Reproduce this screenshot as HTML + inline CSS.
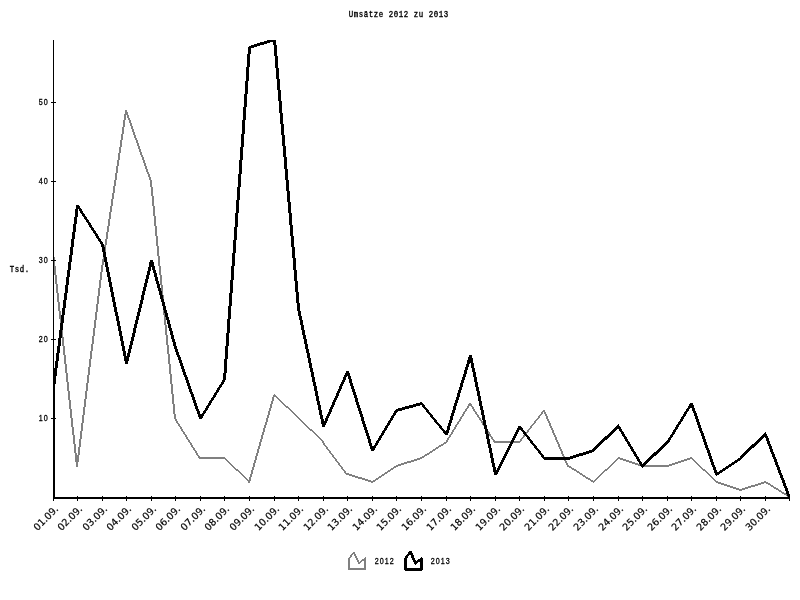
<!DOCTYPE html>
<html><head><meta charset="utf-8"><title>Umsätze 2012 zu 2013</title>
<style>
html,body{margin:0;padding:0;background:#fff;}
svg{display:block;}
.bm{font-family:"Liberation Mono","DejaVu Sans Mono",monospace;font-size:8.4px;font-weight:normal;fill:#000;stroke:#000;stroke-width:0.35px;letter-spacing:0.64px;}
.xl{font-family:"DejaVu Sans","Liberation Sans",sans-serif;font-size:9.6px;fill:#000;stroke:#000;stroke-width:0.2px;}
.nm{font-family:"Liberation Sans","DejaVu Sans",sans-serif;font-size:8.4px;fill:#000;stroke:#000;stroke-width:0.3px;letter-spacing:1.21px;}
</style></head><body>
<svg width="800" height="600" viewBox="0 0 800 600">
<rect width="800" height="600" fill="#fff"/>
<defs><clipPath id="cp"><rect x="53" y="40" width="737" height="459"/></clipPath></defs>
<text class="bm" transform="translate(348.8,17) scale(0.88,1)">Umsätze 2012 zu 2013</text>
<text class="bm" transform="translate(9.8,272) scale(0.88,1)">Tsd.</text>
<path d="M51.94,252.00 L53.94,252.00 L78.06,467.00 L76.06,467.00Z M101.06,268.00 L103.06,268.00 L77.94,467.00 L75.94,467.00Z M125.08,110.00 L127.08,110.00 L102.92,269.00 L100.92,269.00Z M124.82,110.00 L126.82,110.00 L152.18,182.00 L150.18,182.00Z M149.95,181.00 L151.95,181.00 L176.05,419.00 L174.05,419.00Z M173.69,418.00 L175.69,418.00 L201.31,459.00 L199.31,459.00Z M200.00,457.00 L225.00,457.00 L225.00,459.00 L200.00,459.00Z M224.00,456.52 L250.00,481.48 L250.00,483.48 L224.00,458.52Z M273.14,395.00 L275.14,395.00 L249.86,483.00 L247.86,483.00Z M274.00,393.52 L299.00,417.48 L299.00,419.48 L274.00,395.52Z M298.00,416.52 L324.00,441.48 L324.00,443.48 L298.00,418.52Z M321.62,442.00 L323.62,442.00 L348.38,475.00 L346.38,475.00Z M347.00,472.84 L373.00,481.16 L373.00,483.16 L347.00,474.84Z M372.00,481.33 L397.00,464.67 L397.00,466.67 L372.00,483.33Z M396.00,465.16 L422.00,456.84 L422.00,458.84 L396.00,467.16Z M421.00,457.32 L447.00,440.68 L447.00,442.68 L421.00,459.32Z M469.31,403.00 L471.31,403.00 L446.69,443.00 L444.69,443.00Z M468.68,403.00 L470.68,403.00 L496.32,443.00 L494.32,443.00Z M495.00,441.00 L520.00,441.00 L520.00,443.00 L495.00,443.00Z M543.39,410.00 L545.39,410.00 L519.61,443.00 L517.61,443.00Z M542.79,410.00 L544.79,410.00 L569.21,467.00 L567.21,467.00Z M568.00,464.68 L594.00,481.32 L594.00,483.32 L568.00,466.68Z M593.00,481.48 L619.00,456.52 L619.00,458.52 L593.00,483.48Z M618.00,456.83 L643.00,465.17 L643.00,467.17 L618.00,458.83Z M642.00,465.00 L668.00,465.00 L668.00,467.00 L642.00,467.00Z M667.00,465.17 L692.00,456.83 L692.00,458.83 L667.00,467.17Z M691.00,456.52 L717.00,481.48 L717.00,483.48 L691.00,458.52Z M716.00,480.83 L741.00,489.17 L741.00,491.17 L716.00,482.83Z M740.00,489.16 L766.00,480.84 L766.00,482.84 L740.00,491.16Z M765.00,480.69 L790.00,496.31 L790.00,498.31 L765.00,482.69Z" fill="#808080" shape-rendering="crispEdges" clip-path="url(#cp)"/>
<path d="M76.07,205.00 L79.07,205.00 L54.93,388.00 L51.93,388.00Z M75.68,205.00 L78.68,205.00 L104.32,245.00 L101.32,245.00Z M100.90,244.00 L103.90,244.00 L128.10,364.00 L125.10,364.00Z M150.12,260.00 L153.12,260.00 L127.88,364.00 L124.88,364.00Z M149.86,260.00 L152.86,260.00 L177.14,348.00 L174.14,348.00Z M173.82,347.00 L176.82,347.00 L202.18,419.00 L199.18,419.00Z M223.31,379.00 L226.31,379.00 L201.69,419.00 L198.69,419.00Z M248.04,47.00 L251.04,47.00 L225.96,380.00 L222.96,380.00Z M249.00,46.16 L275.00,37.84 L275.00,40.84 L249.00,49.16Z M272.96,39.00 L275.96,39.00 L300.04,309.00 L297.04,309.00Z M296.89,308.00 L299.89,308.00 L325.11,427.00 L322.11,427.00Z M346.22,371.00 L349.22,371.00 L324.78,427.00 L321.78,427.00Z M345.84,371.00 L348.84,371.00 L374.16,451.00 L371.16,451.00Z M395.30,410.00 L398.30,410.00 L373.70,451.00 L370.70,451.00Z M396.00,409.14 L422.00,401.86 L422.00,404.86 L396.00,412.14Z M419.60,403.00 L422.60,403.00 L448.40,435.00 L445.40,435.00Z M469.15,355.00 L472.15,355.00 L447.85,435.00 L444.85,435.00Z M468.89,355.00 L471.89,355.00 L497.11,475.00 L494.11,475.00Z M518.25,426.00 L521.25,426.00 L496.75,475.00 L493.75,475.00Z M517.61,426.00 L520.61,426.00 L546.39,459.00 L543.39,459.00Z M544.00,457.00 L569.00,457.00 L569.00,460.00 L544.00,460.00Z M568.00,457.16 L594.00,448.84 L594.00,451.84 L568.00,460.16Z M593.00,448.48 L619.00,423.52 L619.00,427.52 L593.00,452.48Z M616.70,426.00 L619.70,426.00 L644.30,467.00 L641.30,467.00Z M642.00,464.48 L668.00,439.52 L668.00,443.52 L642.00,468.48Z M690.31,403.00 L693.31,403.00 L668.69,443.00 L665.69,443.00Z M689.82,403.00 L692.82,403.00 L718.18,475.00 L715.18,475.00Z M716.00,473.33 L741.00,456.67 L741.00,459.67 L716.00,476.33Z M740.00,456.48 L766.00,431.52 L766.00,435.52 L740.00,460.48Z M763.81,434.00 L766.81,434.00 L791.19,498.00 L788.19,498.00Z" fill="#000" shape-rendering="crispEdges" clip-path="url(#cp)"/>
<g shape-rendering="crispEdges" fill="#000">
<rect x="53" y="40" width="1" height="459"/>
<rect x="54" y="387" width="1" height="112"/>
<rect x="53" y="497" width="737" height="2"/>
<rect x="51" y="418" width="5" height="1"/>
<rect x="51" y="339" width="5" height="1"/>
<rect x="51" y="260" width="5" height="1"/>
<rect x="51" y="181" width="5" height="1"/>
<rect x="51" y="102" width="5" height="1"/>
<rect x="53" y="496" width="1" height="5"/>
<rect x="77" y="496" width="1" height="5"/>
<rect x="102" y="496" width="1" height="5"/>
<rect x="126" y="496" width="1" height="5"/>
<rect x="151" y="496" width="1" height="5"/>
<rect x="175" y="496" width="1" height="5"/>
<rect x="200" y="496" width="1" height="5"/>
<rect x="224" y="496" width="1" height="5"/>
<rect x="249" y="496" width="1" height="5"/>
<rect x="274" y="496" width="1" height="5"/>
<rect x="298" y="496" width="1" height="5"/>
<rect x="323" y="496" width="1" height="5"/>
<rect x="347" y="496" width="1" height="5"/>
<rect x="372" y="496" width="1" height="5"/>
<rect x="396" y="496" width="1" height="5"/>
<rect x="421" y="496" width="1" height="5"/>
<rect x="446" y="496" width="1" height="5"/>
<rect x="470" y="496" width="1" height="5"/>
<rect x="495" y="496" width="1" height="5"/>
<rect x="519" y="496" width="1" height="5"/>
<rect x="544" y="496" width="1" height="5"/>
<rect x="568" y="496" width="1" height="5"/>
<rect x="593" y="496" width="1" height="5"/>
<rect x="618" y="496" width="1" height="5"/>
<rect x="642" y="496" width="1" height="5"/>
<rect x="667" y="496" width="1" height="5"/>
<rect x="691" y="496" width="1" height="5"/>
<rect x="716" y="496" width="1" height="5"/>
<rect x="740" y="496" width="1" height="5"/>
<rect x="765" y="496" width="1" height="5"/>
<rect x="789" y="496" width="1" height="5"/>
</g>
<text class="nm" transform="translate(38.8,421) scale(0.85,1)">10</text>
<text class="nm" transform="translate(38.8,342) scale(0.85,1)">20</text>
<text class="nm" transform="translate(38.8,263) scale(0.85,1)">30</text>
<text class="nm" transform="translate(38.8,184) scale(0.85,1)">40</text>
<text class="nm" transform="translate(38.8,105) scale(0.85,1)">50</text>
<text class="xl" text-anchor="end" transform="translate(59.00,509.6) rotate(-45)">01.09.</text>
<text class="xl" text-anchor="end" transform="translate(83.00,509.6) rotate(-45)">02.09.</text>
<text class="xl" text-anchor="end" transform="translate(108.00,509.6) rotate(-45)">03.09.</text>
<text class="xl" text-anchor="end" transform="translate(132.00,509.6) rotate(-45)">04.09.</text>
<text class="xl" text-anchor="end" transform="translate(157.00,509.6) rotate(-45)">05.09.</text>
<text class="xl" text-anchor="end" transform="translate(181.00,509.6) rotate(-45)">06.09.</text>
<text class="xl" text-anchor="end" transform="translate(206.00,509.6) rotate(-45)">07.09.</text>
<text class="xl" text-anchor="end" transform="translate(230.00,509.6) rotate(-45)">08.09.</text>
<text class="xl" text-anchor="end" transform="translate(255.00,509.6) rotate(-45)">09.09.</text>
<text class="xl" text-anchor="end" transform="translate(280.00,509.6) rotate(-45)">10.09.</text>
<text class="xl" text-anchor="end" transform="translate(304.00,509.6) rotate(-45)">11.09.</text>
<text class="xl" text-anchor="end" transform="translate(329.00,509.6) rotate(-45)">12.09.</text>
<text class="xl" text-anchor="end" transform="translate(353.00,509.6) rotate(-45)">13.09.</text>
<text class="xl" text-anchor="end" transform="translate(378.00,509.6) rotate(-45)">14.09.</text>
<text class="xl" text-anchor="end" transform="translate(402.00,509.6) rotate(-45)">15.09.</text>
<text class="xl" text-anchor="end" transform="translate(427.00,509.6) rotate(-45)">16.09.</text>
<text class="xl" text-anchor="end" transform="translate(452.00,509.6) rotate(-45)">17.09.</text>
<text class="xl" text-anchor="end" transform="translate(476.00,509.6) rotate(-45)">18.09.</text>
<text class="xl" text-anchor="end" transform="translate(501.00,509.6) rotate(-45)">19.09.</text>
<text class="xl" text-anchor="end" transform="translate(525.00,509.6) rotate(-45)">20.09.</text>
<text class="xl" text-anchor="end" transform="translate(550.00,509.6) rotate(-45)">21.09.</text>
<text class="xl" text-anchor="end" transform="translate(574.00,509.6) rotate(-45)">22.09.</text>
<text class="xl" text-anchor="end" transform="translate(599.00,509.6) rotate(-45)">23.09.</text>
<text class="xl" text-anchor="end" transform="translate(624.00,509.6) rotate(-45)">24.09.</text>
<text class="xl" text-anchor="end" transform="translate(648.00,509.6) rotate(-45)">25.09.</text>
<text class="xl" text-anchor="end" transform="translate(673.00,509.6) rotate(-45)">26.09.</text>
<text class="xl" text-anchor="end" transform="translate(697.00,509.6) rotate(-45)">27.09.</text>
<text class="xl" text-anchor="end" transform="translate(722.00,509.6) rotate(-45)">28.09.</text>
<text class="xl" text-anchor="end" transform="translate(746.00,509.6) rotate(-45)">29.09.</text>
<text class="xl" text-anchor="end" transform="translate(771.00,509.6) rotate(-45)">30.09.</text>
<path d="M348.00,558.00 L350.00,558.00 L350.00,570.00 L348.00,570.00Z M353.42,552.00 L355.42,552.00 L349.58,559.00 L347.58,559.00Z M352.77,552.00 L354.77,552.00 L360.23,564.00 L358.23,564.00Z M359.00,562.42 L366.00,556.58 L366.00,558.58 L359.00,564.42Z M364.00,558.00 L366.00,558.00 L366.00,570.00 L364.00,570.00Z M349.00,568.00 L366.00,568.00 L366.00,570.00 L349.00,570.00Z" fill="#808080" shape-rendering="crispEdges"/>
<text class="nm" transform="translate(374.8,564) scale(0.85,1)">2012</text>
<path d="M404.00,558.00 L407.00,558.00 L407.00,570.00 L404.00,570.00Z M409.36,551.00 L412.36,551.00 L406.64,559.00 L403.64,559.00Z M408.79,551.00 L411.79,551.00 L417.21,564.00 L414.21,564.00Z M415.00,562.42 L422.00,556.58 L422.00,559.58 L415.00,565.42Z M420.00,558.00 L423.00,558.00 L423.00,570.00 L420.00,570.00Z M405.00,568.00 L422.00,568.00 L422.00,571.00 L405.00,571.00Z" fill="#000" shape-rendering="crispEdges"/>
<text class="nm" transform="translate(430.8,564) scale(0.85,1)">2013</text>
</svg></body></html>
